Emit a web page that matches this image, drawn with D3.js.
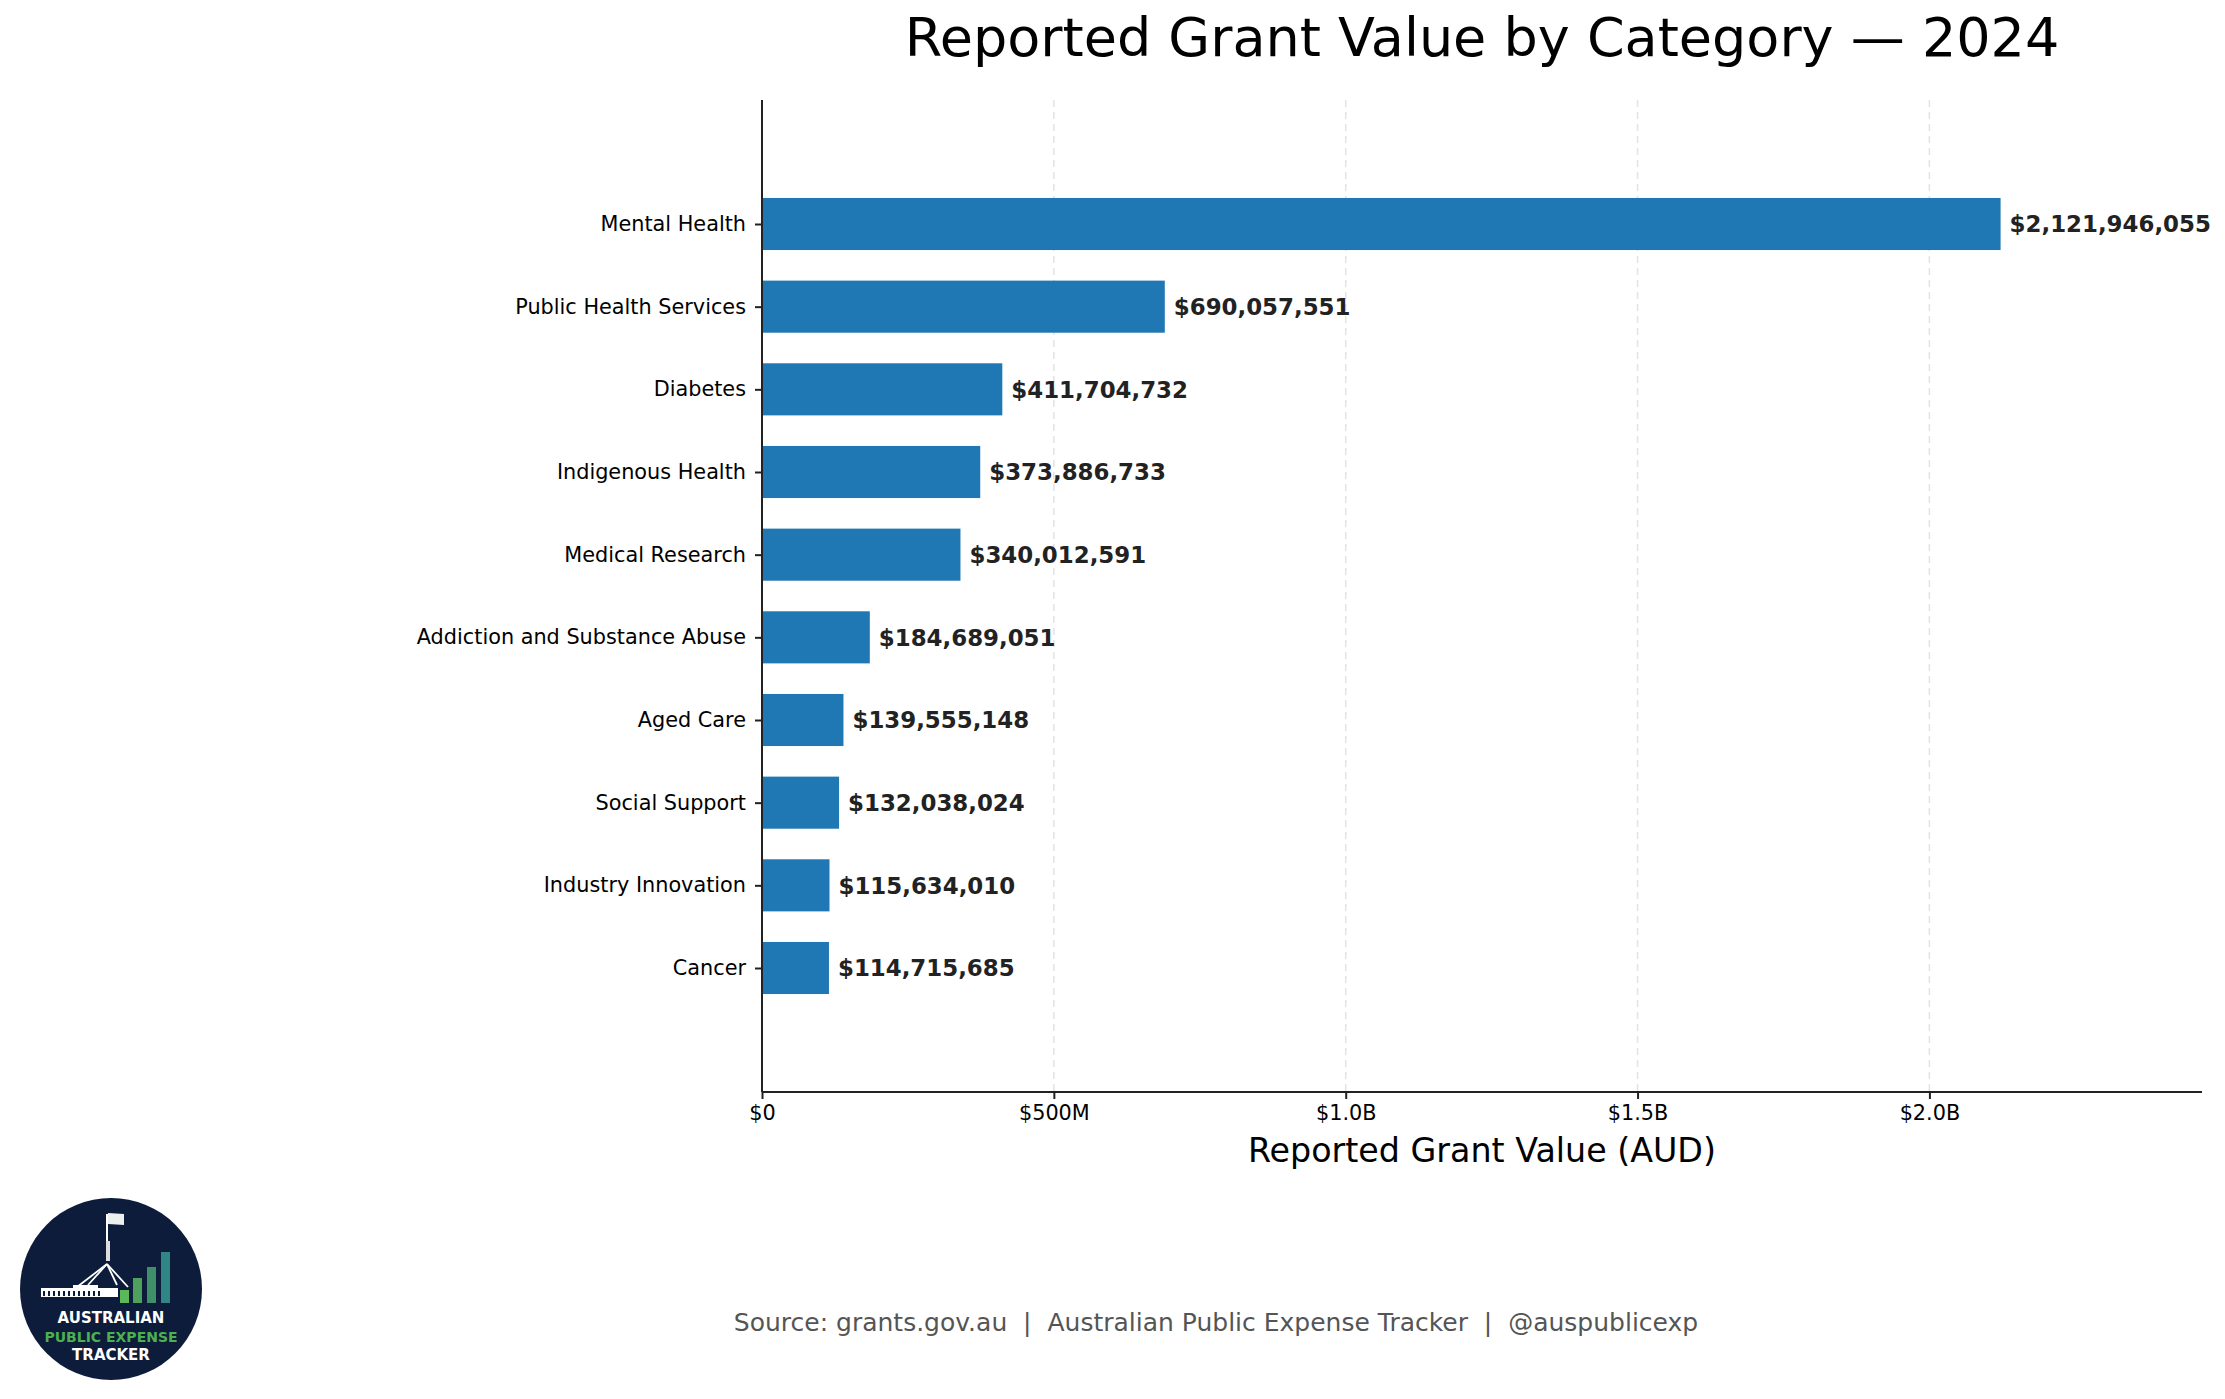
<!DOCTYPE html>
<html>
<head>
<meta charset="utf-8">
<script src="https://cdn.jsdelivr.net/npm/d3@7"></script>
<style>
  body { margin: 0; background: #fff; }
  svg { display: block; font-family: "DejaVu Sans", sans-serif; }
</style>
</head>
<body>
<div id="chart"></div>
<script>
// data
var categories = ["Mental Health", "Public Health Services", "Diabetes", "Indigenous Health",
    "Medical Research", "Addiction and Substance Abuse", "Aged Care", "Social Support",
    "Industry Innovation", "Cancer"];
var grantValues = [2121946055, 690057551, 411704732, 373886733, 340012591,
    184689051, 139555148, 132038024, 115634010, 114715685];
var tickValues = [0, 500e6, 1e9, 1.5e9, 2e9];
var tickLabels = ["$0", "$500M", "$1.0B", "$1.5B", "$2.0B"];

var W = 2225, H = 1399;
var margin = { top: 100, right: 23, bottom: 307, left: 762 };
var width = W - margin.left - margin.right;
var height = H - margin.top - margin.bottom;

var svg = d3.select("#chart").append("svg")
    .attr("width", W)
    .attr("height", H);

svg.append("rect").attr("width", W).attr("height", H).attr("fill", "#fff");

// title
svg.append("text")
    .attr("x", margin.left + width / 2)
    .attr("y", 56)
    .attr("text-anchor", "middle")
    .style("font-size", "54px")
    .attr("fill", "#000")
    .text("Reported Grant Value by Category \u2014 2024");

var g = svg.append("g")
    .attr("transform", "translate(" + margin.left + "," + margin.top + ")");

var x = d3.scaleLinear().domain([0, 2.467e9]).range([0, width]);
var y = d3.scalePoint().domain(categories).range([0, height]).padding(1.5);
var barH = y.step() * 0.63;

// dashed grid
g.selectAll(".grid")
    .data(tickValues)
    .enter().append("line")
    .attr("class", "grid")
    .attr("x1", d => x(d)).attr("x2", d => x(d))
    .attr("y1", 0).attr("y2", height)
    .attr("stroke", "#e3e3e3")
    .attr("stroke-width", 1.5)
    .attr("stroke-dasharray", "7,5");

// bars
g.selectAll(".bar")
    .data(grantValues)
    .enter().append("rect")
    .attr("class", "bar")
    .attr("x", 0)
    .attr("y", (d, i) => y(categories[i]) - barH / 2)
    .attr("width", d => x(d))
    .attr("height", barH)
    .attr("fill", "#1f77b4");

// value labels
g.selectAll(".val")
    .data(grantValues)
    .enter().append("text")
    .attr("class", "val")
    .attr("x", d => x(d) + 9)
    .attr("y", (d, i) => y(categories[i]))
    .attr("dy", "0.36em")
    .style("font-size", "22.9px")
    .style("font-weight", "bold")
    .attr("fill", "#222")
    .text(d => "$" + d3.format(",")(d));

// x axis
var xAxis = g.append("g")
    .attr("transform", "translate(0," + height + ")")
    .call(d3.axisBottom(x).tickValues(tickValues)
        .tickFormat((d, i) => tickLabels[i]).tickSize(7).tickPadding(6));

// y axis
var yAxis = g.append("g")
    .call(d3.axisLeft(y).tickSize(7).tickPadding(9));

[xAxis, yAxis].forEach(function (ax) {
    ax.select(".domain").attr("stroke", "#222").attr("stroke-width", 2);
    ax.selectAll(".tick line").attr("stroke", "#222").attr("stroke-width", 2);
    ax.selectAll(".tick text")
        .style("font-family", "DejaVu Sans")
        .style("font-size", "20.8px")
        .attr("fill", "#000");
});
// d3 draws the outer tick caps on the domain path; redraw as plain lines
xAxis.select(".domain").attr("d", "M0,0H" + width);
yAxis.select(".domain").attr("d", "M0,0V" + height);

// x axis label
svg.append("text")
    .attr("x", margin.left + width / 2)
    .attr("y", 1162)
    .attr("text-anchor", "middle")
    .style("font-size", "33.3px")
    .attr("fill", "#000")
    .text("Reported Grant Value (AUD)");

// source line
svg.append("text")
    .attr("x", 1216)
    .attr("y", 1331)
    .attr("text-anchor", "middle")
    .style("font-size", "25px")
    .style("white-space", "pre")
    .attr("fill", "#555")
    .text("Source: grants.gov.au  |  Australian Public Expense Tracker  |  @auspublicexp");

// logo badge, bottom left
var logo = svg.append("g").attr("transform", "translate(111,1289)");
logo.append("circle").attr("r", 91).attr("fill", "#0c1c3a");

// flag and pole
logo.append("line").attr("x1", -4).attr("x2", -4).attr("y1", -75).attr("y2", -28)
    .attr("stroke", "#fff").attr("stroke-width", 2);
logo.append("rect").attr("x", -5).attr("y", -48).attr("width", 4).attr("height", 20).attr("fill", "#ddd");
logo.append("path").attr("d", "M-3,-76 L13,-75 L13,-64 L-3,-65 Z").attr("fill", "#eee");
// mast legs
[[-34, -2], [-23, -4], [6, -4], [17, -2]].forEach(function (p) {
    logo.append("line").attr("x1", -4).attr("y1", -25).attr("x2", p[0]).attr("y2", p[1])
        .attr("stroke", "#fff").attr("stroke-width", 1.8);
});
// parliament building
logo.append("rect").attr("x", -70).attr("y", -1).attr("width", 77).attr("height", 9).attr("fill", "#fff");
logo.append("rect").attr("x", -38).attr("y", -4).attr("width", 25).attr("height", 4).attr("fill", "#fff");
for (var k = 0; k < 12; k++) {
    logo.append("rect").attr("x", -68 + k * 5).attr("y", 2).attr("width", 2).attr("height", 5).attr("fill", "#0c1c3a");
}
// little growth bars
var logoBars = [[9, 13, "#5bb85a"], [22, 25, "#4fa05c"], [36, 36, "#3f9069"], [50, 51, "#2f8684"]];
logoBars.forEach(function (b) {
    logo.append("rect").attr("x", b[0]).attr("y", 14 - b[1]).attr("width", 9).attr("height", b[1]).attr("fill", b[2]);
});
logo.append("text").attr("y", 34).attr("text-anchor", "middle")
    .style("font-size", "15px").style("font-weight", "bold").attr("fill", "#fff").text("AUSTRALIAN");
logo.append("text").attr("y", 53).attr("text-anchor", "middle")
    .style("font-size", "14px").style("font-weight", "bold").attr("fill", "#4cb050").text("PUBLIC EXPENSE");
logo.append("text").attr("y", 71).attr("text-anchor", "middle")
    .style("font-size", "15px").style("font-weight", "bold").attr("fill", "#fff").text("TRACKER");
</script>
</body>
</html>
